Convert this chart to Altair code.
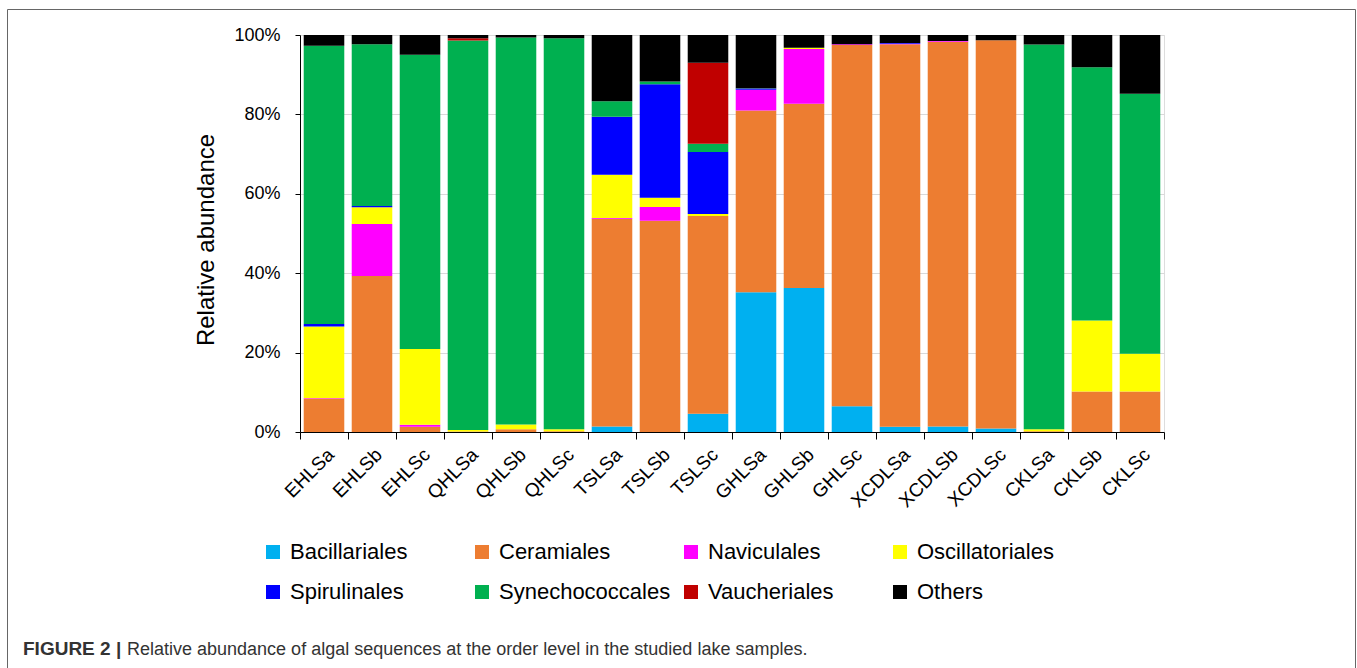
import altair as alt
import pandas as pd

# Lake samples along the x axis
samples = ["EHLSa", "EHLSb", "EHLSc", "QHLSa", "QHLSb", "QHLSc",
           "TSLSa", "TSLSb", "TSLSc", "GHLSa", "GHLSb", "GHLSc",
           "XCDLSa", "XCDLSb", "XCDLSc", "CKLSa", "CKLSb", "CKLSc"]

# Algal orders, bottom of the stack first
orders = ["Bacillariales", "Ceramiales", "Naviculales", "Oscillatoriales",
          "Spirulinales", "Synechococcales", "Vaucheriales", "Others"]
colors = ["#00B0F0", "#ED7D31", "#FF00FF", "#FFFF00",
          "#0000FF", "#00B050", "#C00000", "#000000"]

# Relative abundance (%) of each order in each sample
bacillariales = [0, 0, 0, 0, 0, 0, 1.4, 0, 4.6, 35.2, 36.3, 6.5, 1.3, 1.4, 0.9, 0, 0, 0]
ceramiales = [8.3, 39.3, 1.3, 0.1, 0.7, 0.2, 52.3, 53.2, 49.8, 45.8, 46.4, 91.0, 96.4, 96.9, 97.8, 0.2, 10.2, 10.2]
naviculales = [0.2, 13.1, 0.5, 0, 0, 0, 0.2, 3.5, 0, 5.2, 13.8, 0.2, 0.1, 0.2, 0, 0, 0, 0]
oscillatoriales = [18.1, 4.2, 19.1, 0.4, 1.2, 0.5, 10.9, 2.3, 0.5, 0, 0.3, 0, 0, 0, 0, 0.5, 17.9, 9.5]
spirulinales = [0.6, 0.3, 0, 0, 0, 0, 14.6, 28.6, 15.6, 0.3, 0, 0, 0.2, 0, 0, 0, 0, 0]
synechococcales = [70.1, 40.8, 74.1, 98.1, 97.5, 98.5, 3.9, 0.7, 2.1, 0.1, 0, 0, 0, 0, 0, 96.9, 63.8, 65.5]
vaucheriales = [0, 0, 0, 0.6, 0, 0, 0, 0, 20.4, 0, 0, 0, 0, 0, 0, 0, 0, 0]
others = [2.7, 2.3, 5.0, 0.8, 0.6, 0.8, 16.7, 11.7, 7.0, 13.4, 3.2, 2.3, 2.0, 1.5, 1.3, 2.4, 8.1, 14.8]

y_ticks = [0, 20, 40, 60, 80, 100]

caption_bold = "FIGURE 2 |"
caption_text = ("Relative abundance of algal sequences at the order level "
                "in the studied lake samples.")

series = [bacillariales, ceramiales, naviculales, oscillatoriales,
          spirulinales, synechococcales, vaucheriales, others]
rows = []
for k, (name, vals) in enumerate(zip(orders, series)):
    for s, v in zip(samples, vals):
        rows.append({"sample": s, "order": name, "rank": k, "value": v})
df = pd.DataFrame(rows)

FONT = "Liberation Sans"
W, H = 864, 397
LEFT, TOP = 300, 35

bars = alt.Chart(df).mark_bar(width=alt.RelativeBandSize(0.845)).encode(
    x=alt.X("sample:N", sort=samples,
            scale=alt.Scale(paddingInner=0, paddingOuter=0),
            axis=alt.Axis(title=None, labelAngle=-45, labelFontSize=19,
                          labelPadding=6, tickSize=7, tickBand="extent",
                          domainColor="black", tickColor="black",
                          labelColor="black", labelFont=FONT)),
    y=alt.Y("value:Q", stack="zero",
            scale=alt.Scale(domain=[0, 100], nice=False),
            axis=alt.Axis(title="Relative abundance", values=y_ticks,
                          labelExpr="datum.value + '%'",
                          labelFontSize=18, labelPadding=15, tickSize=5,
                          titleFontSize=24, titleFontWeight="normal",
                          titleX=-87, titleY=H / 2 + 6, titleAngle=-90,
                          titleBaseline="alphabetic", titleAlign="center",
                          grid=True, gridColor="#d9d9d9",
                          domainColor="black", tickColor="black",
                          labelColor="black", titleColor="black",
                          labelFont=FONT, titleFont=FONT)),
    color=alt.Color("order:N", sort=orders,
                    scale=alt.Scale(domain=orders, range=colors),
                    legend=alt.Legend(title=None, orient="none",
                                      direction="horizontal",
                                      legendX=-38, legendY=506,
                                      columns=4, gridAlign="all",
                                      columnPadding=9, rowPadding=18,
                                      symbolType="square", symbolSize=196,
                                      symbolStrokeWidth=0, labelOffset=6,
                                      labelFontSize=22, labelFont=FONT,
                                      labelLimit=400,
                                      labelColor="black", padding=0)),
    order=alt.Order("rank:Q", sort="ascending"),
)

cap_df = pd.DataFrame({"b": [caption_bold], "t": [caption_text]})
cap_bold = alt.Chart(cap_df).mark_text(
    align="left", baseline="alphabetic", font=FONT, fontSize=19,
    fontWeight="bold", color="#333333"
).encode(x=alt.value(23 - LEFT), y=alt.value(655 - TOP), text="b:N")
cap_reg = alt.Chart(cap_df).mark_text(
    align="left", baseline="alphabetic", font=FONT, fontSize=18,
    color="#333333"
).encode(x=alt.value(127 - LEFT), y=alt.value(655 - TOP), text="t:N")

frame = alt.Chart(cap_df).mark_rect(
    fill="transparent", stroke="#666666", strokeWidth=1
).encode(x=alt.value(7.5 - LEFT), x2=alt.value(1355.5 - LEFT),
         y=alt.value(9.5 - TOP), y2=alt.value(720 - TOP))

chart = alt.layer(frame, bars, cap_bold, cap_reg).properties(
    width=W, height=H,
    autosize=alt.AutoSizeParams(type="none"),
    padding={"left": LEFT, "top": TOP, "right": 1357 - LEFT - W,
             "bottom": 668 - TOP - H},
).configure_view(stroke=None).configure(background="white")

chart.save("out.html", embed_options={"renderer": "svg", "actions": False})
